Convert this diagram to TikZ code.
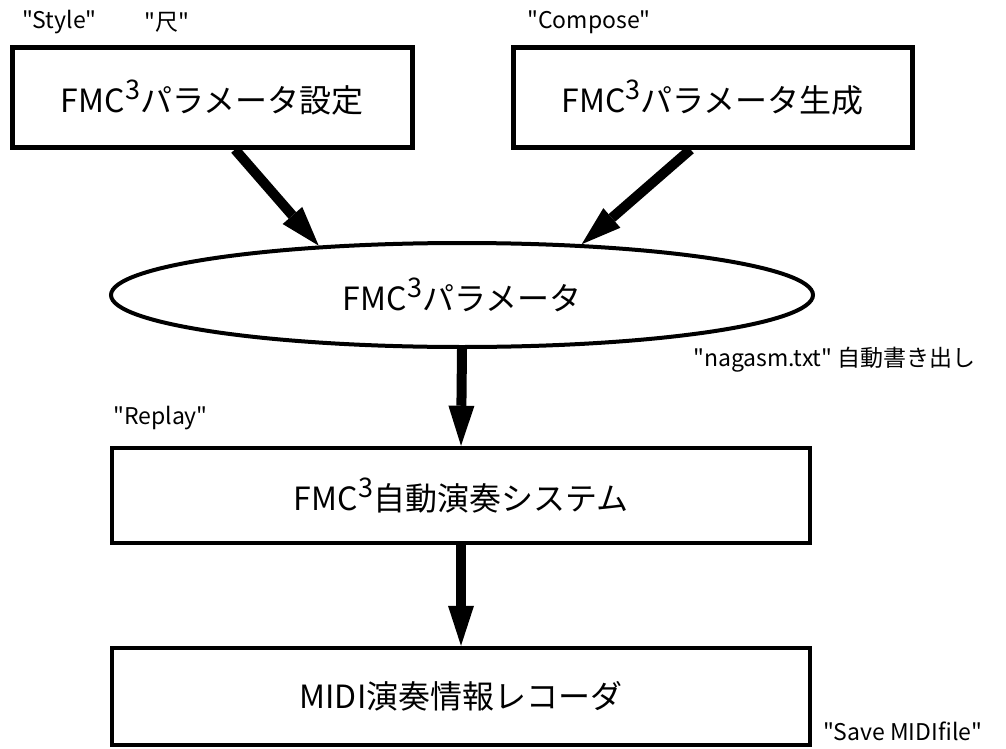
\documentclass[tikz,border=0pt]{standalone}
\usepackage{fontspec}
\setmainfont{Noto Sans CJK JP}[Ligatures=TeXOff]
\usetikzlibrary{shapes.geometric,arrows.meta}

\newcommand\fmcname{FMC\raisebox{0.42em}{\fontsize{27}{27}\selectfont 3}}

\begin{document}
\begin{tikzpicture}[x=1pt,y=-1pt,
  box/.style={draw,line width=5pt,minimum height=99pt,inner sep=0pt,
    font=\fontsize{32}{38}\selectfont},
  bigarrow/.style={line width=10pt,-{Triangle[length=40pt,width=26pt,line width=0pt]}},
  note/.style={font=\fontsize{23}{28}\selectfont,inner sep=0pt}]
  \useasboundingbox (0,0) rectangle (1006,749);
  % Parameter sources
  \node[box,minimum width=400pt] (setting) at (212,97.5) {\fmcname パラメータ設定};
  \node[box,minimum width=399pt] (generate) at (712.5,97.5) {\fmcname パラメータ生成};
  % Parameter file
  \node[ellipse,draw,line width=4pt,minimum width=702pt,minimum height=104pt,inner sep=0pt,
    font=\fontsize{32}{38}\selectfont] (param) at (462,295) {\fmcname パラメータ};
  % Player and recorder
  \node[box,line width=4.5pt,minimum width=698pt,minimum height=95pt] (player) at (461,495.5) {\fmcname 自動演奏システム};
  \node[box,line width=4.5pt,minimum width=698pt,minimum height=97pt] (recorder) at (461,696.5) {MIDI演奏情報レコーダ};
  % Arrows
  \draw[bigarrow] ([xshift=23pt]setting.south) -- (param.161);
  \draw[bigarrow] ([xshift=-22pt]generate.south) -- (param.23.4);
  \draw[bigarrow] (param.south) -- (player.north);
  \draw[bigarrow] (player.south) -- (recorder.north);
  % Labels
  \node[note,anchor=west] (stylelbl) at (22,22) {"Style"};
  \node[note] (shakulbl) at (167,22) {"尺"};
  \node[note] (composelbl) at (589,22) {"Compose"};
  \node[note,anchor=west] (nagasmlbl) at (693,360) {"nagasm.txt" 自動書き出し};
  \node[note,anchor=west] (replaylbl) at (113,418) {"Replay"};
  \node[note,anchor=west] (savelbl) at (823,731) {"Save MIDIfile"};
\end{tikzpicture}
\end{document}
